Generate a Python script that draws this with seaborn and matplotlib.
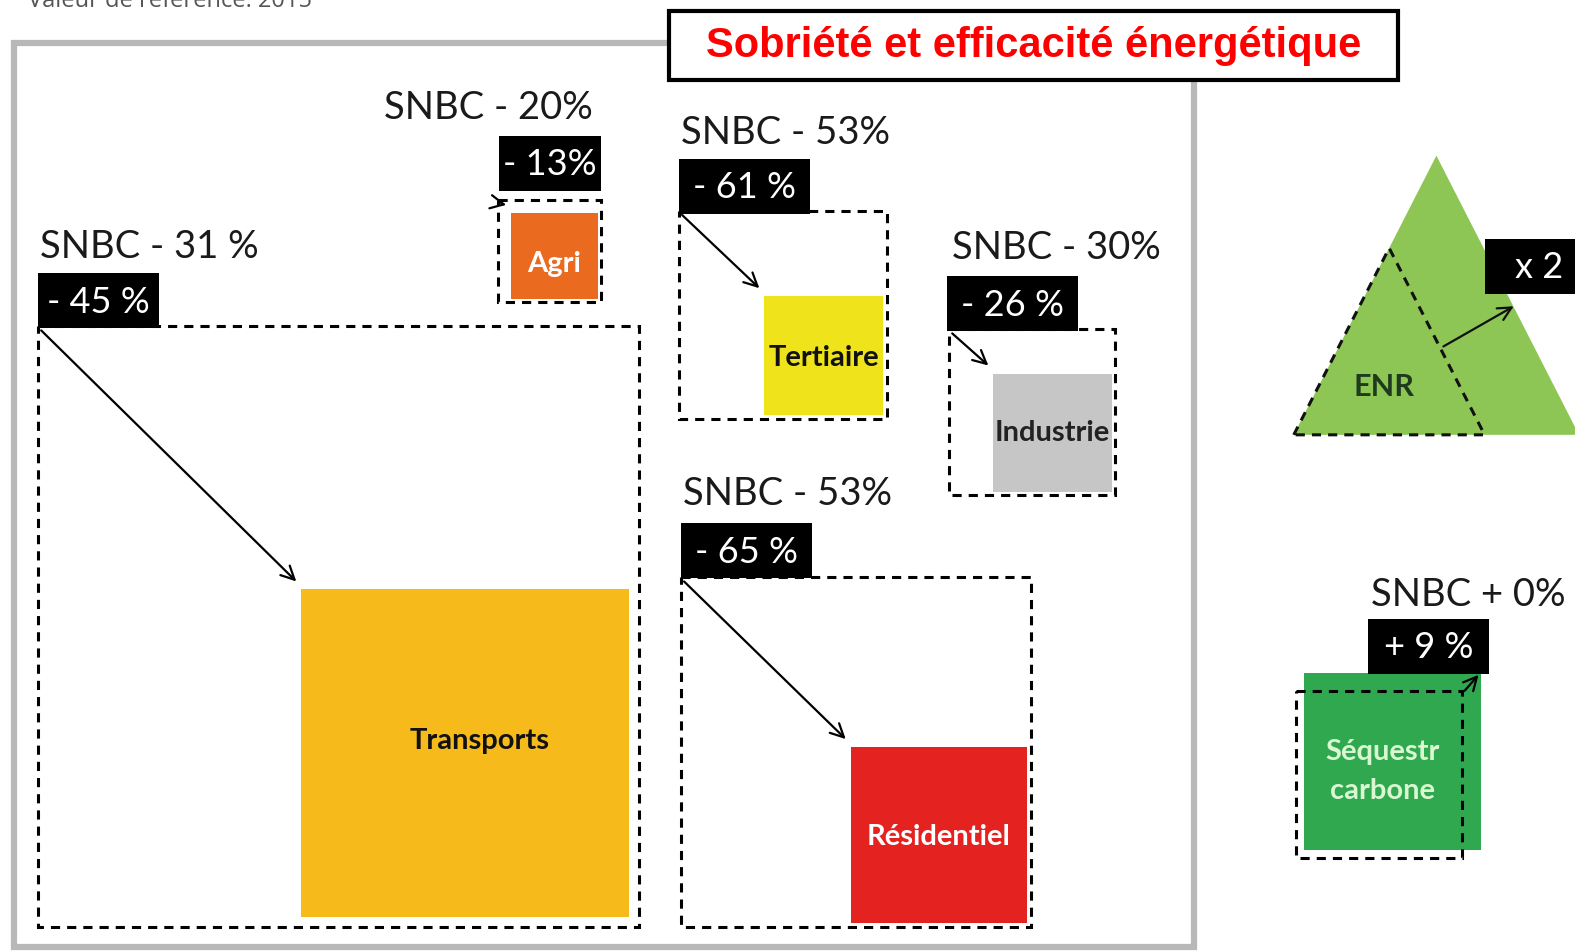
import numpy as np
import pandas as pd
import seaborn as sns
import matplotlib.pyplot as plt

# Sector data (box side ~ emissions level, reference 2015 vs scenario)
sectors = ['Transports', 'Résidentiel', 'Tertiaire', 'Industrie', 'Agri', 'Séquestr\ncarbone']
snbc_labels = ['SNBC - 31 %', 'SNBC - 53%', 'SNBC - 53%', 'SNBC - 30%', 'SNBC - 20%', 'SNBC + 0%']
scenario_labels = ['- 45 %', '- 65 %', '- 61 %', '- 26 %', '- 13%', '+ 9 %']
ref_level = [598, 348, 207, 165, 102, 166]
new_level = [326, 175, 118, 118, 86, 176]
sector_colors = ['#f6bb1a', '#e42320', '#efe31c', '#c6c6c6', '#ea6a1f', '#2fa84f']
text_colors = ['#111111', '#ffffff', '#111111', '#222222', '#ffffff', '#d9f7d0']

# ENR triangle (base width, reference vs scenario)
enr_label = 'x 2'
enr_ref = 190
enr_new = 284

df = pd.DataFrame({'sector': sectors, 'snbc': snbc_labels, 'scen': scenario_labels,
                   'ref': ref_level, 'new': new_level,
                   'color': sector_colors, 'tcolor': text_colors})

# layout: top-left of dashed box, label box (x, y, w), SNBC text (x, y), inset, name offset
layout = {
    'Transports': dict(box=(38, 325), lab=(38, 272, 120), snbc=(40, 246), inset=10, off=(14, -12)),
    'Résidentiel': dict(box=(678, 575), lab=(678, 521, 130), snbc=(680, 492), inset=4, off=(0, 2)),
    'Tertiaire': dict(box=(676, 210), lab=(676, 158, 130), snbc=(678, 132), inset=4, off=(0, 2)),
    'Industrie': dict(box=(945, 328), lab=(943, 275, 130), snbc=(948, 247), inset=3, off=(0, 0)),
    'Agri': dict(box=(496, 199), lab=(497, 135, 101), snbc=(382, 108), inset=3, off=(0, 8)),
    'Séquestr\ncarbone': dict(box=(1290, 688), lab=(1362, 616, 120), snbc=(1365, 592), inset=8, off=(-10, 10)),
}

sns.set_theme(style='white')
plt.rcParams['font.family'] = ['Lato', 'DejaVu Sans']

fig = plt.figure(figsize=(15.75, 9.51), dpi=100)
ax = fig.add_axes([0, 0, 1, 1])
ax.set_xlim(0, 1568)
ax.set_ylim(947, 0)
ax.axis('off')

dash = (0, (3, 2.3))

# header text (cut at top, as in the source)
ax.text(28, 7, 'Valeur de référence: 2015', fontsize=17, color='#555555',
        va='baseline', ha='left', family=['Open Sans', 'DejaVu Sans'])

# grey frame
ax.bar(14, 900, width=1175, bottom=43, align='edge', fill=False,
       edgecolor='#b8b8b8', linewidth=4.5, zorder=1)

# title box
ax.bar(666, 69, width=726, bottom=11, align='edge', color='white',
       edgecolor='black', linewidth=3, zorder=5)
ax.text(1029, 46, 'Sobriété et efficacité énergétique', color='#ff0000',
        fontsize=30, fontweight='bold', ha='center', va='center', zorder=6,
        family=['Liberation Sans', 'DejaVu Sans'])

for _, r in df.iterrows():
    lay = layout[r['sector']]
    x, y = lay['box']
    ref, new, ins = r['ref'], r['new'], lay['inset']
    if new <= ref:
        fx = x + ref - new - ins
        fy = y + ref - new - ins
        start, end = (x + 3, y + 4), (fx - 5, fy - 8)
    else:
        fx = x + ins
        fy = y + ref - new - ins
        start, end = (x + ref + 2, y), (fx + new - 2, fy + 2)
    # scenario box (filled)
    ax.bar(fx, new, width=new, bottom=fy, align='edge', color=r['color'],
           linewidth=0, zorder=2)
    # reference box (dashed)
    ax.bar(x, ref, width=ref, bottom=y, align='edge', fill=False,
           edgecolor='black', linewidth=2.2, linestyle=dash, zorder=3)
    ax.annotate('', xy=end, xytext=start, zorder=4,
                arrowprops=dict(arrowstyle='->,head_length=0.8,head_width=0.4',
                                color='black', lw=1.6, shrinkA=0, shrinkB=0))
    ox, oy = lay['off']
    ax.text(fx + new / 2 + ox, fy + new / 2 + oy, r['sector'], color=r['tcolor'],
            fontsize=21, fontweight='bold', ha='center', va='center',
            linespacing=1.6, zorder=4)
    # label box
    lx, ly, lw = lay['lab']
    ax.bar(lx, 55, width=lw, bottom=ly, align='edge', color='black',
           linewidth=0, zorder=4)
    ax.text(lx + lw / 2, ly + 29, r['scen'], color='white', fontsize=26,
            ha='center', va='center', zorder=5)
    sx, sy = lay['snbc']
    ax.text(sx, sy, r['snbc'], color='#1a1a1a', fontsize=27.5,
            ha='left', va='center', zorder=5)

# ENR triangle
bx, by = 1288, 433
h_ratio = 278 / 284
outer = np.array([[bx, by], [bx + 142, by - enr_new * h_ratio], [bx + enr_new, by]])
ax.fill(outer[:, 0], outer[:, 1], color='#8dc655', linewidth=0, zorder=2)
inner_apex = (bx + enr_ref * h_ratio * 142 / 278, by - enr_ref * h_ratio)
ax.plot([bx, inner_apex[0], bx + enr_ref, bx], [by, inner_apex[1], by, by],
        color='#111111', linewidth=2.2, linestyle=dash, zorder=3)
ax.text(bx + 90, 385, 'ENR', color='#1e3b1e', fontsize=22, fontweight='bold',
        ha='center', va='center', zorder=4)
ax.bar(1478, 55, width=110, bottom=238, align='edge', color='black',
       linewidth=0, zorder=4)
ax.text(1532, 266, enr_label, color='white', fontsize=26, ha='center',
        va='center', zorder=5)
ax.annotate('', xy=(1507, 305), xytext=(1437, 345), zorder=4,
            arrowprops=dict(arrowstyle='->,head_length=0.8,head_width=0.4',
                            color='#111111', lw=1.6, shrinkA=0, shrinkB=0))

fig.savefig('out.png', dpi=100)
